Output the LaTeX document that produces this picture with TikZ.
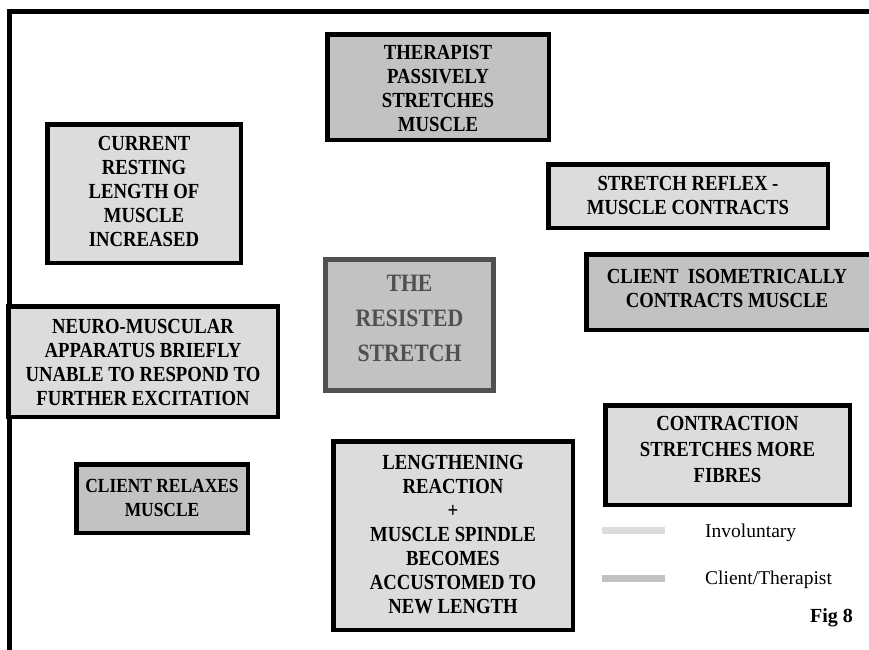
\documentclass[tikz,border=0pt]{standalone}
\usepackage{fontspec}
\setmainfont{Liberation Serif}
\newfontfamily\boxfont{Liberation Serif}[FakeStretch=0.87,BoldFont={Liberation Serif Bold}]
\begin{document}
\begin{tikzpicture}[x=1pt,y=-1pt,
  box/.style={draw=black, line width=4.5pt, inner sep=0pt},
  lightbox/.style={box, fill=lightgrey},
  darkbox/.style={box, fill=darkgrey},
  boxtext/.style={align=center, inner sep=0pt, text=black,
    font=\boxfont\fontsize{21.5}{24}\selectfont\bfseries},
  legline/.style={line width=7pt},
  legtext/.style={anchor=west, inner sep=0pt, font=\fontsize{19.5}{22}\selectfont}]
\definecolor{lightgrey}{HTML}{DCDCDC}
\definecolor{darkgrey}{HTML}{C2C2C2}
\definecolor{midgrey}{HTML}{505050}
\useasboundingbox (0,0) rectangle (869,649);
\clip (0,0) rectangle (869,649);
% frame
\draw[line width=5pt, line join=miter] (9.5,652) -- (9.5,11.5) -- (872,11.5);
% boxes
\node[darkbox, minimum width=221.5pt, minimum height=105.5pt] (therapist) at (438,87) {};
\node[boxtext] (therapist-t) at (438,88) {THERAPIST\\PASSIVELY\\STRETCHES\\MUSCLE};
\node[lightbox, minimum width=193.5pt, minimum height=138.5pt] (resting) at (144,193.5) {};
\node[boxtext] (resting-t) at (144,191) {CURRENT\\RESTING\\LENGTH OF\\MUSCLE\\INCREASED};
\node[lightbox, minimum width=279.5pt, minimum height=63.5pt] (reflex) at (688,196) {};
\node[boxtext] (reflex-t) at (688,195.5) {STRETCH REFLEX -\\MUSCLE CONTRACTS};
\node[box, fill=darkgrey, draw=midgrey, line width=5pt,
  minimum width=168pt, minimum height=131pt] (resisted) at (409.5,325) {};
\node[boxtext, text=midgrey, font=\boxfont\fontsize{25}{35}\selectfont\bfseries]
  (resisted-t) at (409.5,318) {THE\\RESISTED\\STRETCH};
\node[darkbox, minimum width=285.5pt, minimum height=75.5pt] (isometric) at (729,292) {};
\node[boxtext] (isometric-t) at (727,288.5) {CLIENT\ \ ISOMETRICALLY\\CONTRACTS MUSCLE};
\node[lightbox, minimum width=269.5pt, minimum height=110.5pt] (neuro) at (143,361.5) {};
\node[boxtext] (neuro-t) at (143,362) {NEURO-MUSCULAR\\APPARATUS BRIEFLY\\UNABLE TO RESPOND TO\\FURTHER EXCITATION};
\node[lightbox, minimum width=244.5pt, minimum height=99.5pt] (contraction) at (727.5,455) {};
\node[boxtext, font=\boxfont\fontsize{21.5}{26}\selectfont\bfseries]
  (contraction-t) at (727.5,449) {CONTRACTION\\STRETCHES MORE\\FIBRES};
\node[darkbox, minimum width=171.5pt, minimum height=68.5pt] (relaxes) at (162,498.5) {};
\node[boxtext, font=\boxfont\fontsize{20}{24}\selectfont\bfseries]
  (relaxes-t) at (162,498) {CLIENT RELAXES\\MUSCLE};
\node[lightbox, minimum width=239.5pt, minimum height=188.5pt] (lengthening) at (453,535.5) {};
\node[boxtext] (lengthening-t) at (453,534.5) {LENGTHENING\\REACTION\\+\\MUSCLE SPINDLE\\BECOMES\\ACCUSTOMED TO\\NEW LENGTH};
% legend
\coordinate (l1a) at (602,530); \coordinate (l1b) at (665,530);
\coordinate (l2a) at (602,578); \coordinate (l2b) at (665,578);
\draw[legline, lightgrey] (l1a) -- (l1b);
\draw[legline, darkgrey] (l2a) -- (l2b);
\node[legtext] (invol) at (705,533) {Involuntary};
\node[legtext] (clther) at (705,580) {Client/Therapist};
\node[anchor=east, inner sep=0pt, font=\fontsize{20}{22}\selectfont\bfseries] (fig) at (853,618) {Fig 8};
\end{tikzpicture}
\end{document}
